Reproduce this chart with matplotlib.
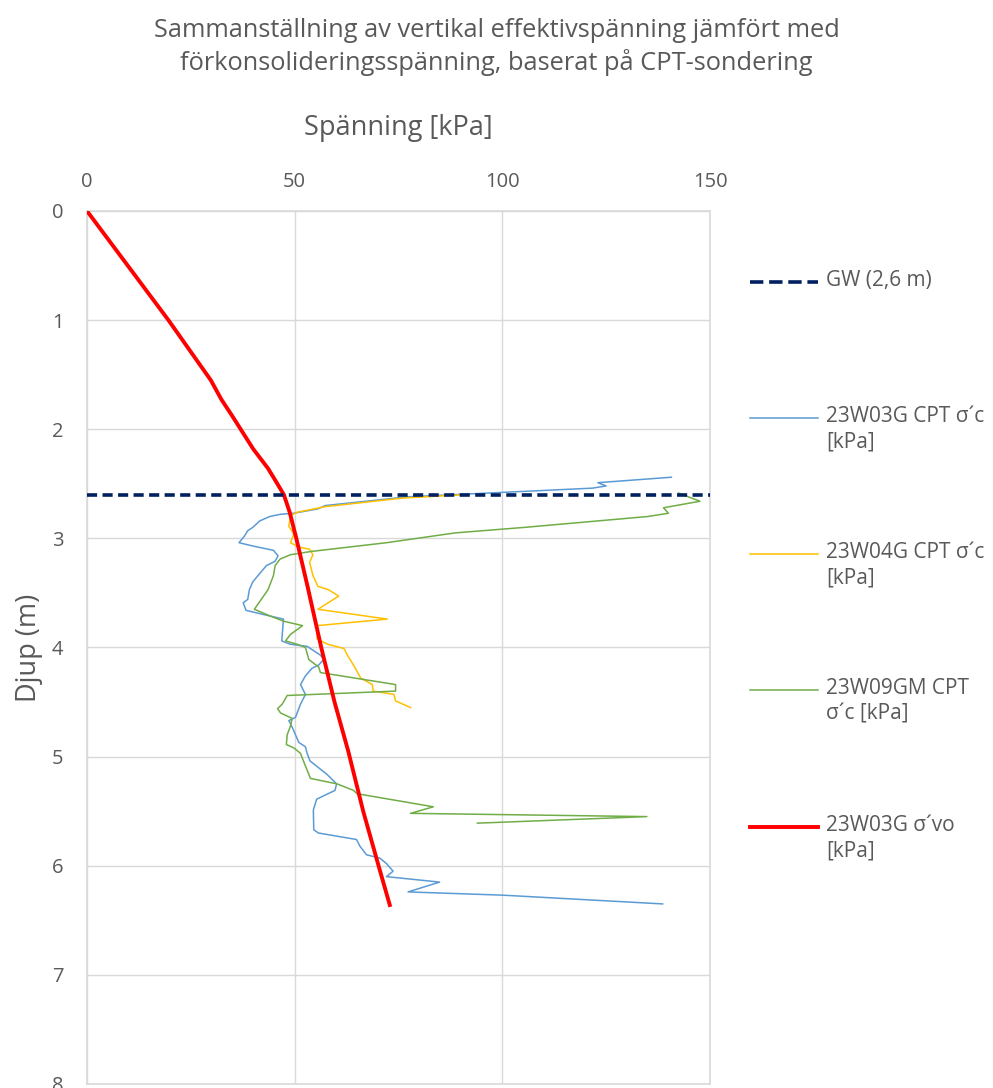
import numpy as np
import matplotlib
matplotlib.use("Agg")
import matplotlib.pyplot as plt
from matplotlib.lines import Line2D

plt.rcParams['font.family'] = ['Open Sans', 'DejaVu Sans']

# ---------------- data ----------------
gw_depth = 2.6

# 23W03G CPT sigma'c [kPa]
w03_kpa = [140.7, 123.0, 125.0, 121.7, 77.0, 57.3, 55.6, 49.8, 46.5, 44.0, 41.6, 39.9,
           38.7, 37.9, 36.6, 39.9, 44.9, 46.0, 45.3, 43.2, 41.2, 39.9, 39.1, 38.7, 37.6,
           38.3, 41.6, 47.3, 46.9, 48.9, 53.0, 56.2, 57.0, 55.8, 54.2, 52.6, 51.4, 52.6,
           51.4, 50.2, 48.6, 49.4, 51.0, 52.6, 53.0, 53.7, 57.7, 60.1, 59.7, 55.3, 54.5,
           54.6, 55.7, 64.9, 65.7, 67.3, 70.5, 72.1, 73.7, 72.1, 84.9, 77.3, 100.2, 138.6]
w03_depth = [2.44, 2.49, 2.52, 2.54, 2.62, 2.70, 2.73, 2.77, 2.78, 2.80, 2.84, 2.90,
             2.93, 2.98, 3.04, 3.07, 3.11, 3.16, 3.21, 3.25, 3.34, 3.40, 3.47, 3.56, 3.59,
             3.66, 3.69, 3.74, 3.94, 3.97, 3.99, 4.07, 4.11, 4.16, 4.19, 4.26, 4.34, 4.43,
             4.52, 4.64, 4.67, 4.73, 4.87, 4.91, 4.97, 5.04, 5.16, 5.25, 5.31, 5.39, 5.49,
             5.67, 5.70, 5.76, 5.82, 5.90, 5.93, 5.98, 6.05, 6.10, 6.15, 6.24, 6.27, 6.35]

# 23W04G CPT sigma'c [kPa]
w04_kpa = [90.7, 76.3, 57.3, 50.7, 49.0, 48.6, 49.8, 49.0, 51.0, 53.6, 54.4, 53.6, 54.4,
           55.6, 58.1, 60.6, 55.6, 72.3, 55.4, 55.4, 57.9, 61.9, 62.7, 64.3, 65.9, 68.7,
           68.9, 73.9, 74.3, 77.9]
w04_depth = [2.60, 2.63, 2.71, 2.76, 2.79, 2.89, 2.96, 3.04, 3.08, 3.10, 3.15, 3.22, 3.34,
             3.44, 3.47, 3.53, 3.65, 3.74, 3.80, 3.92, 3.97, 4.01, 4.07, 4.17, 4.28, 4.34,
             4.40, 4.43, 4.49, 4.55]

# 23W09GM CPT sigma'c [kPa]
w09_kpa = [142.4, 147.6, 138.8, 140.0, 135.0, 105.2, 88.7, 72.1, 54.0, 49.0, 46.5, 45.3,
           44.9, 43.6, 40.3, 44.0, 47.4, 51.9, 49.0, 47.8, 50.6, 52.6, 53.4, 55.8, 56.2,
           74.3, 74.3, 48.2, 47.0, 45.9, 46.6, 49.4, 49.0, 48.2, 48.0, 49.8, 51.4, 51.8,
           53.8, 60.2, 64.2, 65.0, 83.4, 77.9, 134.8, 94.0]
w09_depth = [2.585, 2.66, 2.72, 2.77, 2.80, 2.90, 2.95, 3.04, 3.12, 3.15, 3.19, 3.25,
             3.34, 3.47, 3.65, 3.71, 3.76, 3.80, 3.88, 3.94, 3.97, 4.00, 4.11, 4.18, 4.23,
             4.34, 4.40, 4.44, 4.52, 4.56, 4.60, 4.65, 4.72, 4.80, 4.89, 4.92, 4.97, 5.01,
             5.20, 5.25, 5.31, 5.34, 5.46, 5.52, 5.55, 5.61]

# 23W03G sigma'vo [kPa]
svo_kpa = [0.0, 19.6, 29.8, 32.4, 35.0, 37.0, 40.0, 43.6, 45.2, 47.4, 48.8, 50.4, 53.1,
           56.4, 59.6, 62.9, 66.5, 70.2, 72.9]
svo_depth = [0.0, 1.0, 1.55, 1.73, 1.88, 2.0, 2.18, 2.36, 2.46, 2.6, 2.76, 3.0, 3.44,
             4.0, 4.5, 4.95, 5.5, 6.0, 6.36]

x_ticks = [0, 50, 100, 150]
y_ticks = [0, 1, 2, 3, 4, 5, 6, 7, 8]

labels = ['GW (2,6 m)', '23W03G CPT σ´c\n[kPa]', '23W04G CPT σ´c\n[kPa]',
          '23W09GM CPT\nσ´c [kPa]', '23W03G σ´vo\n[kPa]']

txt = '#595959'
grid = '#d9d9d9'

# ---------------- figure ----------------
fig = plt.figure(figsize=(9.93, 10.88), dpi=100)
ax = fig.add_axes([0.0876, 0.0037, 0.6274, 0.8024])

l_gw = ax.axhline(gw_depth, color='#002060', lw=2.6, ls=(0, (2.8, 1.5)), zorder=5)
l03, = ax.plot(w03_kpa, w03_depth, color='#5b9bd5', lw=1.1)
l04, = ax.plot(w04_kpa, w04_depth, color='#ffc000', lw=1.1)
l09, = ax.plot(w09_kpa, w09_depth, color='#70ad47', lw=1.1)
lsv, = ax.plot(svo_kpa, svo_depth, color='#ff0000', lw=2.8, zorder=4)

ax.set_xlim(0, 150)
ax.set_ylim(8, 0)
ax.set_xticks(x_ticks)
ax.set_yticks(y_ticks)
ax.xaxis.tick_top()
ax.xaxis.set_label_position('top')
ax.tick_params(length=0, labelsize=14.5, colors=txt)
ax.tick_params(axis='x', pad=14)
ax.tick_params(axis='y', pad=17)
ax.grid(True, color=grid, lw=1)
ax.set_axisbelow(True)
for s in ax.spines.values():
    s.set_color(grid)
    s.set_linewidth(1.2)

ax.set_xlabel('Spänning [kPa]', fontsize=19.5, color=txt, labelpad=26)
ax.set_ylabel('Djup (m)', fontsize=19.5, color=txt, labelpad=6)

fig.text(0.5, 0.9565, 'Sammanställning av vertikal effektivspänning jämfört med\n'
         'förkonsolideringsspänning, baserat på CPT-sondering',
         ha='center', va='center', fontsize=18.3, color=txt, linespacing=1.3)

# manual legend on the right, handle level with the first text line
handles = [l_gw, l03, l04, l09, lsv]
leg_y = [282, 418, 554, 690, 827]
H = 1088.0
for h, lab, yp in zip(handles, labels, leg_y):
    yf = 1 - yp / H
    fig.add_artist(Line2D([750 / 993, 818 / 993], [yf, yf], transform=fig.transFigure,
                          color=h.get_color(), lw=h.get_linewidth(),
                          ls=h.get_linestyle()))
    fig.text(826 / 993, yf + 12 / H, lab, ha='left', va='top', fontsize=15,
             color=txt, linespacing=1.3)

fig.savefig('out.png', dpi=100)
